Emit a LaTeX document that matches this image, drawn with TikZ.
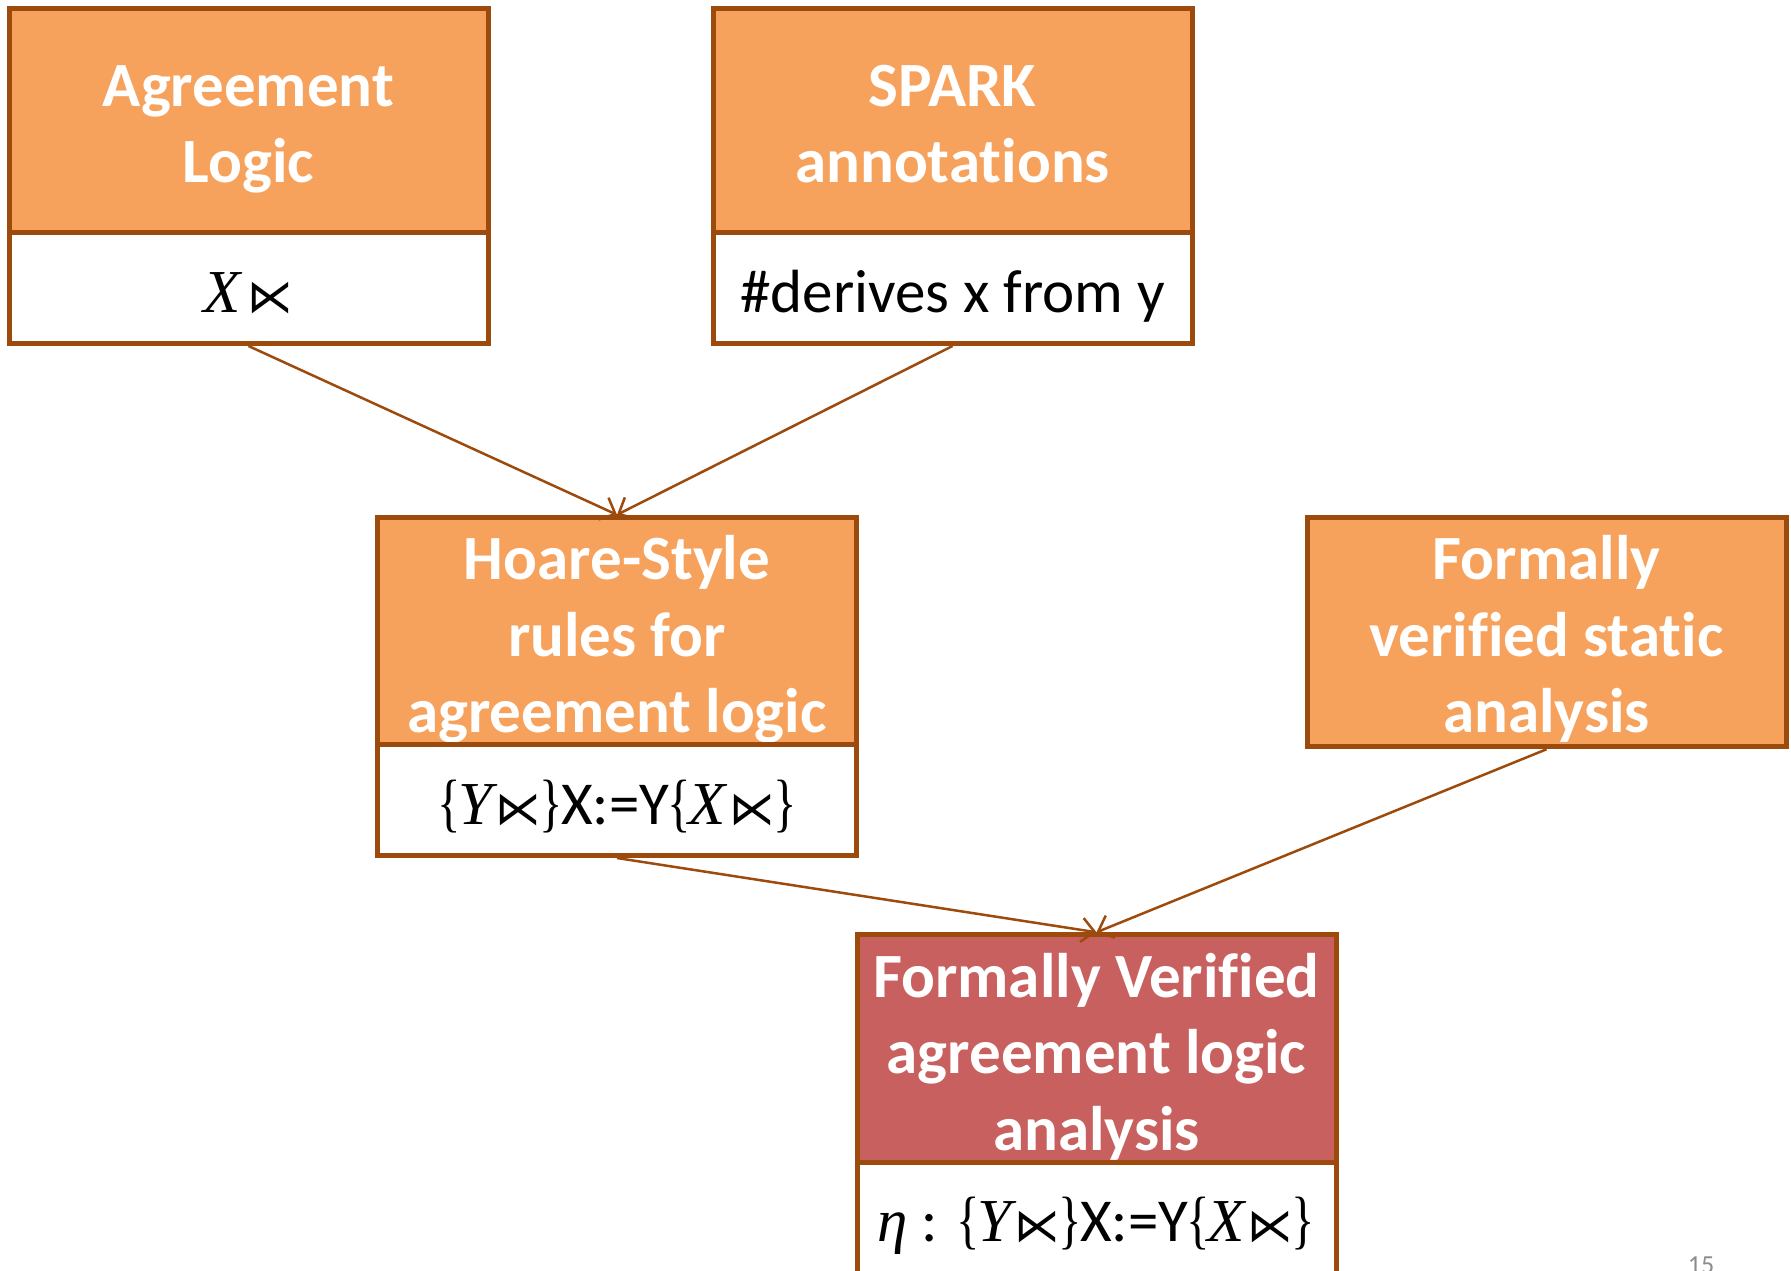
\documentclass[tikz,border=0pt]{standalone}
\usepackage{fontspec}
\setmainfont{Carlito}[Ligatures={NoCommon}]
\newfontfamily\libserif{Liberation Serif}
\newfontfamily\dejavu{DejaVu Sans}
\usetikzlibrary{arrows.meta}
\definecolor{bordc}{HTML}{9C4B0C}
\definecolor{orfill}{HTML}{F7A25C}
\definecolor{redfill}{HTML}{C7605E}
\definecolor{pgnum}{HTML}{8C8C8C}
\newcommand\lx{{\fontsize{46}{50}\selectfont\dejavu ⋉}}
\newcommand\myit[1]{{\libserif\itshape #1}}
\newcommand\mbr[1]{{\libserif\scalebox{0.8}[1.05]{#1}}}
\newcommand\ls{\rule[-14pt]{0pt}{76.5pt}}
\tikzset{
  titlebox/.style={draw=bordc, fill=orfill, line width=5pt, minimum width=479pt, minimum height=224pt,
    inner sep=0pt, align=center, text=white, font=\fontsize{63}{76.5}\selectfont\bfseries},
  finalbox/.style={titlebox, fill=redfill},
  subbox/.style={draw=bordc, fill=white, line width=5pt, minimum width=479pt, minimum height=111pt,
    inner sep=0pt, align=center, text=black, font=\fontsize{61}{76.5}\selectfont},
  conn/.style={draw=bordc, line width=2.5pt, -{Straight Barb[length=13pt,width=24pt,line width=2.5pt]}}
}
\begin{document}
\begin{tikzpicture}[x=1pt,y=-1pt]
\useasboundingbox (0,0) rectangle (1791,1270);
% top left
\node[titlebox] (agr) at (248.5,120) {\ls Agreement\\\ls Logic};
\node[subbox] (agrsub) at (248.5,288) {\ls\myit{X}\kern6pt\lx};
% top middle
\node[titlebox] (spark) at (952.5,120) {\ls SPARK\\\ls annotations};
\node[subbox] (sparksub) at (952.5,288) {\ls\#derives x from y};
% middle
\node[titlebox] (hoare) at (617,632) {\ls Hoare-Style\\\ls rules for\\\ls agreement logic};
\node[subbox] (hoaresub) at (617,800) {\ls\mbr{\{}\kern-2pt\myit{Y}\kern3pt\lx\kern-2pt\mbr{\}}\kern-2pt X:=Y\kern-2pt\mbr{\{}\kern-2pt\myit{X}\kern3pt\lx\kern-2pt\mbr{\}}};
% right
\node[titlebox] (fvsa) at (1546.5,632) {\ls Formally\\\ls verified static\\\ls analysis};
% bottom
\node[finalbox] (fval) at (1096.5,1049.5) {\ls Formally Verified\\\ls agreement logic\\\ls analysis};
\node[subbox] (fvalsub) at (1096.5,1217.5) {\ls\myit{η} : \mbr{\{}\kern-2pt\myit{Y}\kern3pt\lx\kern-2pt\mbr{\}}\kern-2pt X:=Y\kern-2pt\mbr{\{}\kern-2pt\myit{X}\kern3pt\lx\kern-2pt\mbr{\}}};
% connectors
\draw[conn] (agrsub.south) -- (hoare.north);
\draw[conn] (sparksub.south) -- (hoare.north);
\draw[conn] (hoaresub.south) -- (fval.north);
\draw[conn] (fvsa.south) -- (fval.north);
% page number
\node[anchor=north, inner sep=0pt, text=pgnum, font=\fontsize{26}{30}\selectfont] (pg) at (1701,1257) {15};
\end{tikzpicture}
\end{document}
